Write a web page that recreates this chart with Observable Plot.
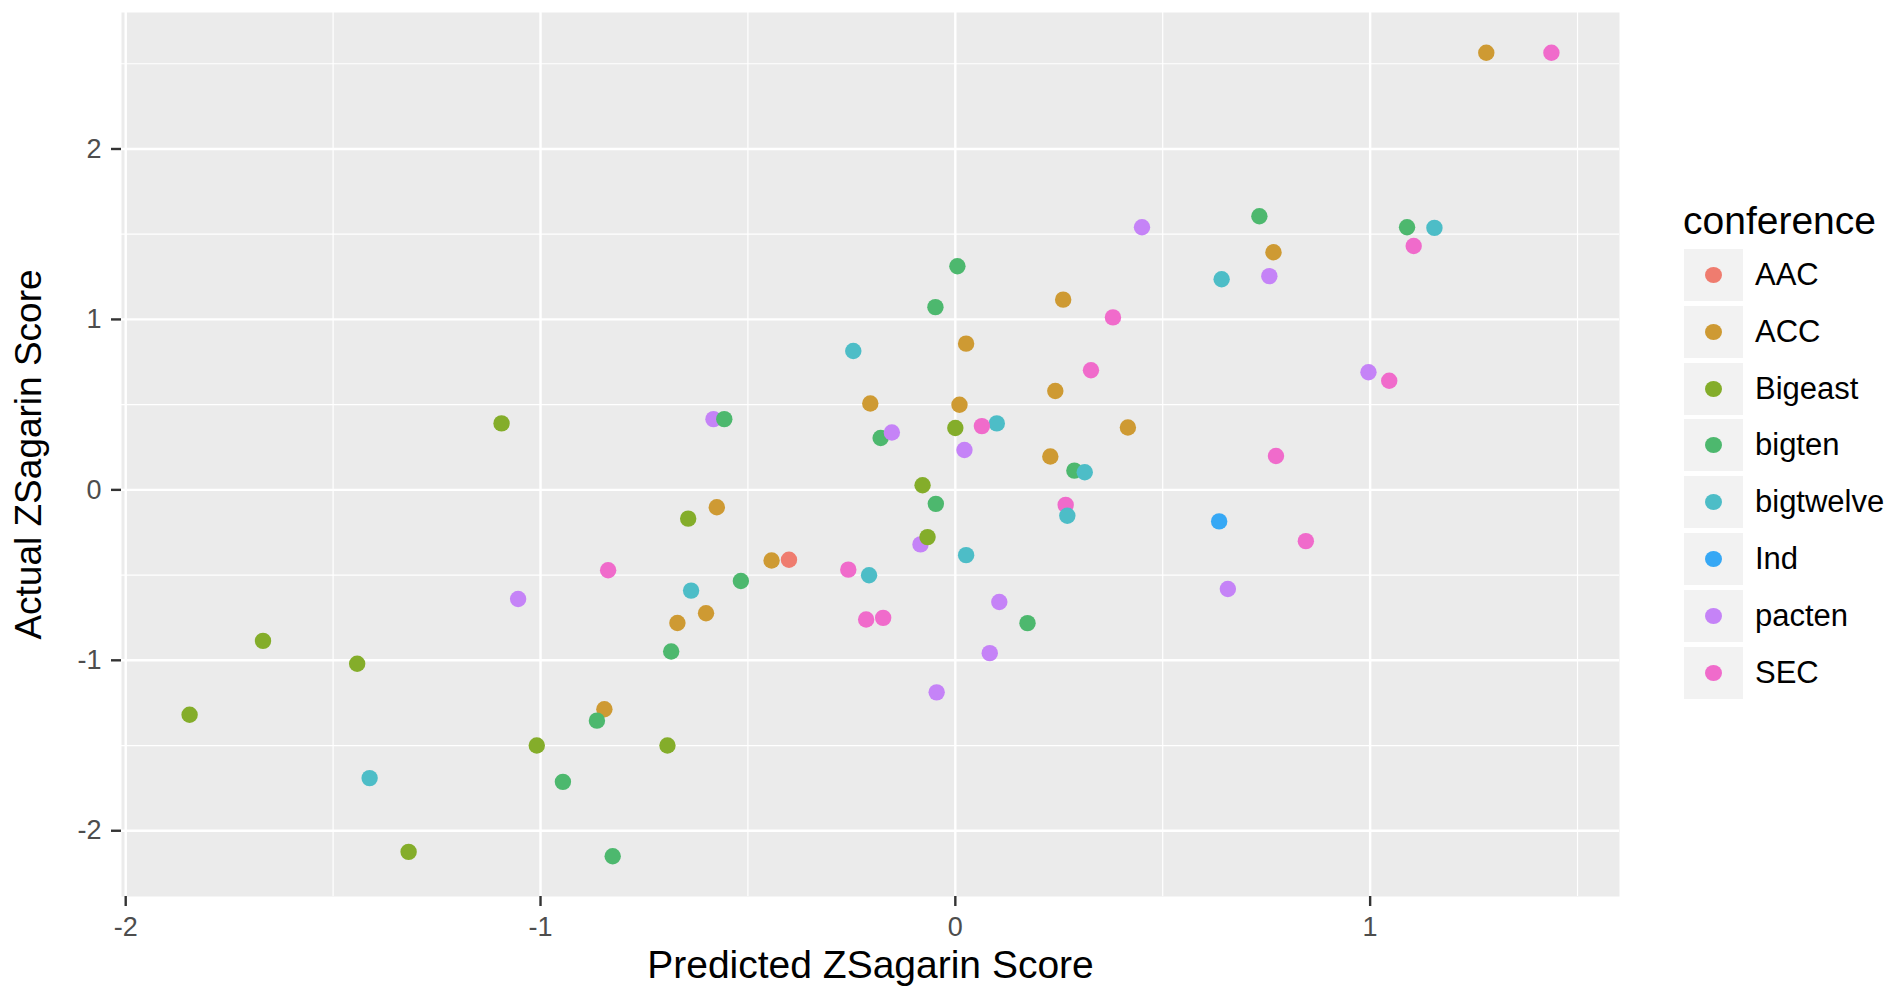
<!DOCTYPE html>
<html>
<head>
<meta charset="utf-8">
<script src="https://cdn.jsdelivr.net/npm/d3@7"></script>
<script src="https://cdn.jsdelivr.net/npm/@observablehq/plot@0.6"></script>
<style>
  body { margin: 0; background: #ffffff; font-family: "Liberation Sans", Arial, Helvetica, sans-serif; }
  #wrap { position: relative; width: 1895px; height: 987px; overflow: hidden; }
  #wrap svg { position: absolute; left: 0; top: 0; }
  .lg-title { position: absolute; left: 1683px; top: 202px; font-size: 39px; line-height: 38px; color: #000; white-space: nowrap; }
  .lg-key { position: absolute; left: 1684px; width: 59px; height: 52px; background: #F2F2F2; }
  .lg-dot { position: absolute; left: 21px; top: 18px; width: 17px; height: 16px; border-radius: 50%; }
  .lg-label { position: absolute; left: 1755px; height: 52px; line-height: 52px; font-size: 31px; color: #000; white-space: nowrap; }
</style>
</head>
<body>
<div id="wrap"></div>
<script>
// ---- data (one row per team) ----
const conferenceLevels = ["AAC", "ACC", "Bigeast", "bigten", "bigtwelve", "Ind", "pacten", "SEC"];
const conferenceColors = ["#EF7C6F", "#CE9A33", "#84AD2A", "#4DB86E", "#4DBDC7", "#36A8F5", "#C583F7", "#F06BCB"];

const conference = [
  "pacten", "SEC", "AAC",
  "ACC", "ACC", "ACC", "ACC", "ACC", "ACC", "ACC", "ACC", "ACC", "ACC", "ACC", "ACC", "ACC", "ACC",
  "Bigeast", "Bigeast", "Bigeast", "Bigeast", "Bigeast", "Bigeast", "Bigeast", "Bigeast", "Bigeast", "Bigeast",
  "bigten", "bigten", "bigten", "bigten", "bigten", "bigten", "bigten", "bigten", "bigten", "bigten", "bigten", "bigten", "bigten", "bigten",
  "bigtwelve", "bigtwelve", "bigtwelve", "bigtwelve", "bigtwelve", "bigtwelve", "bigtwelve", "bigtwelve", "bigtwelve", "bigtwelve",
  "Ind",
  "pacten", "pacten", "pacten", "pacten", "pacten", "pacten", "pacten", "pacten", "pacten", "pacten", "pacten",
  "SEC", "SEC", "SEC", "SEC", "SEC", "SEC", "SEC", "SEC", "SEC", "SEC", "SEC", "SEC",
  "Bigeast"
];
const predicted = [
  -0.583, 0.266, -0.401,
  1.280, 0.767, 0.260, 0.026, 0.241, -0.205, 0.010, 0.416, 0.229, -0.575, -0.443, -0.670, -0.601, -0.846,
  -1.846, -1.669, -1.442, -1.318, -1.094, -1.009, -0.694, -0.644, -0.079, 0.000,
  0.733, 1.089, 0.005, -0.048, -0.557, -0.180, -0.047, 0.287, -0.517, -0.685, 0.174, -0.864, -0.946, -0.826,
  1.155, 0.642, -0.246, 0.100, 0.312, 0.270, 0.026, -0.208, -0.637, -1.412,
  0.636,
  0.450, 0.757, 0.996, -0.153, 0.022, -0.084, -1.054, 0.657, 0.106, 0.083, -0.045,
  1.437, 1.105, 0.380, 0.327, 1.046, 0.064, 0.773, 0.845, -0.837, -0.258, -0.215, -0.174,
  -0.067
];
const actual = [
  0.415, -0.088, -0.410,
  2.565, 1.394, 1.116, 0.858, 0.580, 0.507, 0.499, 0.366, 0.196, -0.102, -0.414, -0.781, -0.724, -1.287,
  -1.319, -0.886, -1.020, -2.124, 0.390, -1.500, -1.500, -0.169, 0.027, 0.363,
  1.605, 1.541, 1.312, 1.072, 0.415, 0.304, -0.082, 0.113, -0.535, -0.948, -0.782, -1.354, -1.713, -2.150,
  1.537, 1.236, 0.815, 0.390, 0.103, -0.152, -0.383, -0.501, -0.591, -1.691,
  -0.185,
  1.541, 1.254, 0.690, 0.337, 0.234, -0.320, -0.640, -0.582, -0.658, -0.958, -1.188,
  2.565, 1.431, 1.012, 0.702, 0.640, 0.374, 0.199, -0.301, -0.472, -0.468, -0.761, -0.751,
  -0.277
];

const xMajor = [-2, -1, 0, 1];
const xMinor = [-1.5, -0.5, 0.5, 1.5];
const yMajor = [-2, -1, 0, 1, 2];
const yMinor = [-1.5, -0.5, 0.5, 1.5, 2.5];
const xTitle = "Predicted ZSagarin Score";
const yTitle = "Actual ZSagarin Score";
const legendTitle = "conference";

// ---- build ----
const rows = conference.map((c, i) => ({conference: c, predicted: predicted[i], actual: actual[i]}));

// ggplot-style 5% expansion of the data range
function expand(values) {
  const [lo, hi] = d3.extent(values);
  const pad = (hi - lo) * 0.05;
  return [lo - pad, hi + pad];
}

const font = '"Liberation Sans", Arial, Helvetica, sans-serif';

const chart = Plot.plot({
  width: 1640,
  height: 987,
  marginLeft: 121,
  marginRight: 21,
  marginTop: 12,
  marginBottom: 91,
  style: {fontFamily: font, background: "transparent", overflow: "visible"},
  x: {domain: expand(predicted)},
  y: {domain: expand(actual)},
  color: {domain: conferenceLevels, range: conferenceColors},
  marks: [
    Plot.frame({fill: "#EBEBEB", stroke: null}),
    Plot.gridX(xMinor, {stroke: "#ffffff", strokeOpacity: 1, strokeWidth: 1.2}),
    Plot.gridY(yMinor, {stroke: "#ffffff", strokeOpacity: 1, strokeWidth: 1.2}),
    Plot.gridX(xMajor, {stroke: "#ffffff", strokeOpacity: 1, strokeWidth: 2.4}),
    Plot.gridY(yMajor, {stroke: "#ffffff", strokeOpacity: 1, strokeWidth: 2.4}),
    Plot.dot(rows, {x: "predicted", y: "actual", fill: "conference", r: 8.2, stroke: null}),
    Plot.axisX(xMajor, {
      tickSize: 10, tickPadding: 10, fontSize: 27, strokeWidth: 2.4,
      stroke: "#333333", fill: "#4D4D4D", tickFormat: d => String(d), label: null
    }),
    Plot.axisY(yMajor, {
      tickSize: 10, tickPadding: 10, fontSize: 27, strokeWidth: 2.4,
      stroke: "#333333", fill: "#4D4D4D", tickFormat: d => String(d), label: null
    }),
    Plot.text([xTitle], {text: d => d, frameAnchor: "bottom", textAnchor: "middle", dy: 81, lineAnchor: "bottom", fontSize: 39, fill: "#000000"}),
    Plot.text([yTitle], {text: d => d, frameAnchor: "left", textAnchor: "middle", dx: -107, rotate: -90, lineAnchor: "top", fontSize: 37, fill: "#000000"})
  ]
});

const wrap = document.getElementById("wrap");
wrap.appendChild(chart);

// ---- legend (ggplot style), colours taken from the plot's colour scale ----
const colorScale = chart.scale("color");
const title = document.createElement("div");
title.className = "lg-title";
title.textContent = legendTitle;
wrap.appendChild(title);
colorScale.domain.forEach((name, i) => {
  const top = 249 + i * 56.8;
  const key = document.createElement("div");
  key.className = "lg-key";
  key.style.top = top + "px";
  const dot = document.createElement("div");
  dot.className = "lg-dot";
  dot.style.background = colorScale.apply(name);
  key.appendChild(dot);
  wrap.appendChild(key);
  const label = document.createElement("div");
  label.className = "lg-label";
  label.style.top = top + "px";
  label.textContent = name;
  wrap.appendChild(label);
});
</script>
</body>
</html>
